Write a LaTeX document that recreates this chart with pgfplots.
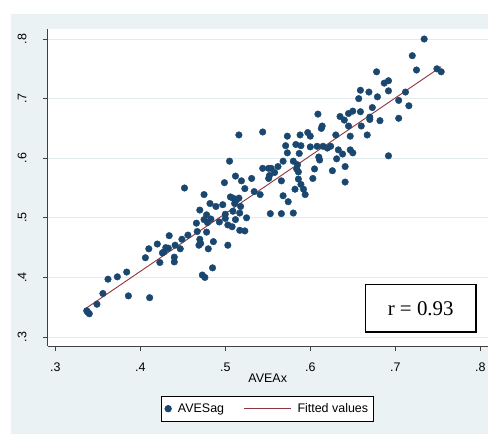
\documentclass[border=0pt]{standalone}
\usepackage{pgfplots}
\pgfplotsset{compat=1.18}
\usepackage{fontspec}
\setmainfont{Liberation Sans}
\newfontfamily\timesf{Liberation Serif}
\definecolor{stbg}{HTML}{EAF2F3}
\definecolor{stnavy}{HTML}{1A476F}
\definecolor{stmaroon}{HTML}{90353B}
\definecolor{stgrid}{HTML}{E2ECEE}

\pgfplotsset{
  scatlegend/.style={legend image code/.code={\draw[##1] plot[mark=*, mark size=3.3bp] coordinates {(0bp,0bp)};}},
  linelegend/.style={legend image code/.code={\draw[##1] (0bp,0bp) -- (47bp,0bp);}},
}

\pgfplotstableread{
x y
0.734 0.800
0.720 0.772
0.725 0.748
0.749 0.750
0.754 0.745
0.678 0.745
0.687 0.726
0.692 0.730
0.692 0.713
0.659 0.714
0.669 0.711
0.679 0.703
0.657 0.700
0.712 0.711
0.704 0.697
0.716 0.688
0.704 0.667
0.673 0.685
0.659 0.678
0.650 0.679
0.645 0.675
0.635 0.670
0.640 0.664
0.670 0.665
0.670 0.669
0.682 0.663
0.645 0.654
0.660 0.654
0.614 0.654
0.613 0.650
0.609 0.674
0.630 0.639
0.647 0.637
0.667 0.639
0.597 0.643
0.600 0.637
0.588 0.639
0.573 0.637
0.544 0.644
0.516 0.639
0.571 0.621
0.583 0.623
0.589 0.621
0.573 0.609
0.587 0.608
0.600 0.619
0.608 0.620
0.615 0.620
0.620 0.617
0.624 0.620
0.633 0.614
0.647 0.614
0.650 0.609
0.638 0.607
0.631 0.599
0.610 0.602
0.611 0.597
0.692 0.604
0.505 0.595
0.568 0.595
0.580 0.595
0.585 0.589
0.641 0.586
0.562 0.586
0.544 0.583
0.551 0.583
0.554 0.583
0.605 0.582
0.626 0.579
0.584 0.582
0.558 0.576
0.552 0.571
0.551 0.566
0.586 0.577
0.586 0.565
0.566 0.562
0.603 0.566
0.589 0.556
0.582 0.548
0.592 0.548
0.594 0.539
0.641 0.560
0.531 0.566
0.519 0.562
0.512 0.570
0.499 0.559
0.452 0.550
0.523 0.549
0.534 0.544
0.541 0.539
0.568 0.537
0.574 0.527
0.475 0.539
0.482 0.524
0.489 0.519
0.497 0.522
0.506 0.535
0.509 0.533
0.516 0.533
0.513 0.530
0.511 0.524
0.518 0.519
0.509 0.511
0.517 0.508
0.500 0.506
0.500 0.499
0.512 0.497
0.525 0.500
0.470 0.513
0.478 0.505
0.475 0.497
0.483 0.498
0.479 0.492
0.466 0.491
0.493 0.493
0.503 0.488
0.508 0.485
0.517 0.479
0.523 0.478
0.553 0.507
0.566 0.507
0.580 0.508
0.467 0.477
0.478 0.476
0.456 0.471
0.449 0.464
0.434 0.470
0.441 0.454
0.447 0.448
0.470 0.464
0.471 0.457
0.469 0.454
0.486 0.460
0.480 0.448
0.503 0.454
0.420 0.456
0.410 0.448
0.430 0.450
0.433 0.449
0.428 0.443
0.426 0.441
0.406 0.433
0.423 0.425
0.440 0.434
0.440 0.426
0.485 0.416
0.473 0.404
0.476 0.400
0.384 0.409
0.373 0.401
0.362 0.397
0.356 0.373
0.386 0.369
0.411 0.366
0.349 0.355
0.337 0.344
0.340 0.339
0.338 0.342
}\scatterdata

\pgfplotstableread{
x y
0.337 0.349
0.754 0.7535
}\fitdata

\begin{document}
\begin{tikzpicture}
\useasboundingbox (0,0) rectangle (489bp,434bp);
\fill[white] (0,0) rectangle (489bp,434bp);
\fill[stbg] (11bp,0) rectangle (488bp,420bp);
\begin{axis}[
  at={(47.5bp,88bp)}, anchor=south west,
  scale only axis, width=440.5bp, height=317bp,
  xmin=0.29082, xmax=0.8091, ymin=0.2849, ymax=0.8168,
  axis background/.style={fill=white},
  axis x line*=bottom, axis y line*=left,
  axis line style={black!75, line width=0.8bp},
  xtick={0.3,0.4,0.5,0.6,0.7,0.8}, xticklabels={.3,.4,.5,.6,.7,.8},
  ytick={0.3,0.4,0.5,0.6,0.7,0.8}, yticklabels={.3,.4,.5,.6,.7,.8},
  tick align=outside, major tick length=4.5bp,
  tick style={black!75, line width=0.8bp},
  ymajorgrids, grid style={stgrid, line width=1bp},
  ticklabel style={font=\fontsize{12.5}{15}\selectfont},
  xticklabel style={yshift=-8.5bp},
  yticklabel style={xshift=-13bp, rotate=90, anchor=south},
  xlabel={AVEAx},
  xlabel style={font=\fontsize{12.5}{15}\selectfont, at={(axis description cs:0.5,0)}, anchor=center, yshift=-32.3bp},
  legend columns=2,
  legend style={at={(axis description cs:0.4994,-0.1978)}, anchor=center,
    draw=black, line width=0.7bp, fill=white,
    font=\fontsize{12.5}{15}\selectfont,
    inner xsep=3.5bp, inner ysep=5bp,
    nodes={inner sep=2bp},
    /tikz/every odd column/.append style={column sep=4.5bp},
    /tikz/every even column/.append style={column sep=17bp}},
]
\addplot[only marks, mark=*, mark size=3.3bp, color=stnavy, mark options={fill=stnavy, draw=stnavy}, scatlegend]
  table {\scatterdata};
\addlegendentry{AVESag}
\addplot[stmaroon, line width=0.9bp, no marks, linelegend]
  table {\fitdata};
\addlegendentry{Fitted values}
\end{axis}
\node[draw=black, line width=1.5bp, fill=white, minimum width=110.7bp, minimum height=47.7bp, inner sep=0pt,
  font=\timesf\fontsize{21}{25}\selectfont] at (420.7bp,125.8bp) {r = 0.93};
\end{tikzpicture}
\end{document}
